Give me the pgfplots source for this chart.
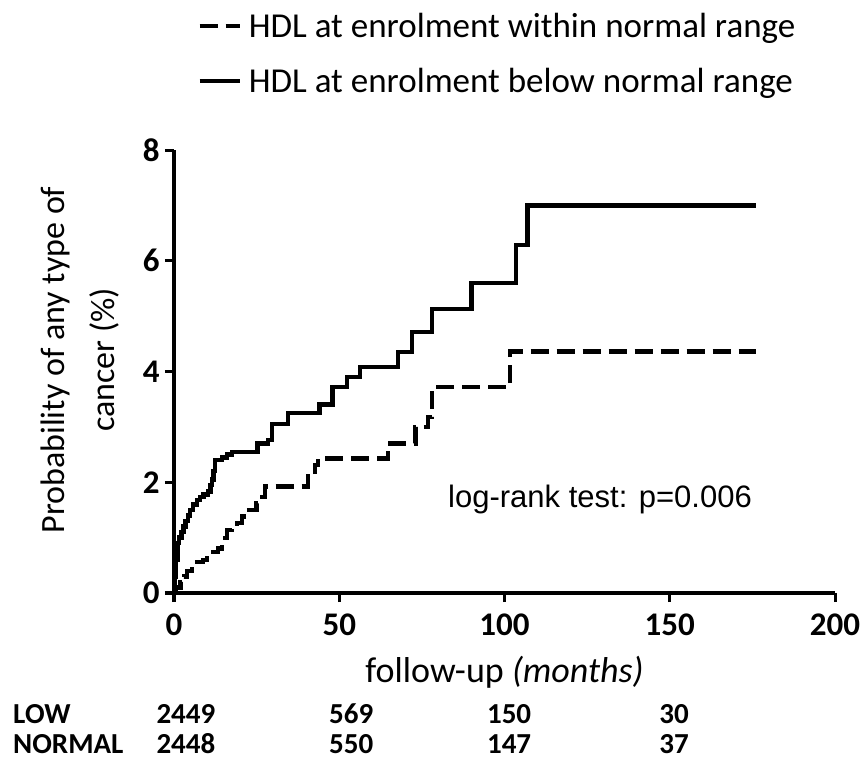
\documentclass[border=0pt]{standalone}
\usepackage{pgfplots}
\pgfplotsset{compat=1.18}
\usepackage{fontspec}
\setmainfont{Carlito}
\newfontfamily\arialfont{Liberation Sans}
\pgfplotstableread{
x y
0 0
0.3 0.3
0.6 0.6
1.0 0.9
1.5 1.0
2.2 1.1
2.8 1.2
3.5 1.3
4.2 1.4
4.8 1.5
5.7 1.6
7.0 1.68
7.9 1.73
9.0 1.78
10.3 1.83
11.0 1.95
11.5 2.05
12.0 2.2
12.4 2.4
14.5 2.45
16.0 2.5
17.5 2.55
25.2 2.7
28.4 2.76
29.6 3.05
34.5 3.25
44.0 3.4
48.0 3.72
52.3 3.9
56.3 4.08
67.8 4.35
72.0 4.71
78.0 5.13
90.0 5.6
103.5 6.28
107.0 7.0
176.0 7.0
}\lowdata
\pgfplotstableread{
x y
0 0
0.5 0.1
2.0 0.2
3.0 0.3
4.0 0.4
5.4 0.56
8.8 0.6
10.0 0.74
13.3 0.8
14.5 0.99
16.0 1.14
17.5 1.2
19.0 1.26
20.5 1.38
22.0 1.5
25.0 1.62
26.6 1.73
27.5 1.92
40.5 2.1
42.7 2.31
43.6 2.43
64.7 2.7
73.0 3.0
76.9 3.18
78.0 3.72
101.7 4.36
176.0 4.36
}\normaldata
\begin{document}
\begin{tikzpicture}
\useasboundingbox (0,0) rectangle (867bp,763bp);
\begin{axis}[
  at={(174bp,170bp)}, anchor=south west,
  scale only axis, width=661bp, height=443bp,
  xmin=0, xmax=200, ymin=0, ymax=8,
  axis lines=left,
  axis line style={line width=3bp,-},
  xtick={0,50,100,150,200}, ytick={0,2,4,6,8},
  tick style={line width=3bp,black},
  tick align=outside, major tick length=9bp,
  ticklabel style={font=\fontsize{33bp}{33bp}\selectfont\bfseries},
  xticklabel style={yshift=-8bp},
  yticklabel style={xshift=-2bp},
  /pgf/number format/assume math mode=true,
  clip=false,
  xlabel={follow-up \textit{(months)}},
  xlabel style={font=\fontsize{36bp}{38bp}\selectfont, at={(axis description cs:0.5,-0.178)}, anchor=center},
  ylabel={Probability of any type of\\cancer (\%)},
  ylabel style={font=\fontsize{34bp}{50bp}\selectfont, align=center, at={(axis description cs:-0.142,0.526)}, anchor=center},
  legend cell align=left,
  legend style={at={(axis description cs:0.035,1.318)}, anchor=north west, draw=none, fill=none,
    font=\fontsize{35bp}{40bp}\selectfont, row sep=21bp, inner sep=0pt,
    nodes={inner xsep=7bp, inner ysep=4bp}},
  legend image code/.code={\draw[#1] (0bp,0bp) -- (40bp,0bp);},
]
\addplot[const plot, line width=4.5bp, dash pattern=on 18bp off 8bp] table[x=x,y=y] {\normaldata};
\addlegendentry{HDL at enrolment within normal range}
\addplot[const plot, line width=4.5bp] table[x=x,y=y] {\lowdata};
\addlegendentry{HDL at enrolment below normal range}
\node[anchor=base, font=\arialfont\fontsize{31bp}{33bp}\selectfont] at (axis cs:128.9,1.55) {log-rank test: p=0.006};
\begin{scope}[every node/.style={font=\fontsize{29bp}{30bp}\selectfont\bfseries, inner sep=0pt}]
\node[anchor=base west] at (axis cs:-48.7,-2.36) {LOW};
\node[anchor=base west] at (axis cs:-48.7,-2.90) {NORMAL};
\node[anchor=base] at (axis cs:3.6,-2.36) {2449};
\node[anchor=base] at (axis cs:3.6,-2.90) {2448};
\node[anchor=base] at (axis cs:53.6,-2.36) {569};
\node[anchor=base] at (axis cs:53.6,-2.90) {550};
\node[anchor=base] at (axis cs:101.4,-2.36) {150};
\node[anchor=base] at (axis cs:101.4,-2.90) {147};
\node[anchor=base] at (axis cs:151.3,-2.36) {30};
\node[anchor=base] at (axis cs:151.3,-2.90) {37};
\end{scope}
\end{axis}
\end{tikzpicture}
\end{document}
